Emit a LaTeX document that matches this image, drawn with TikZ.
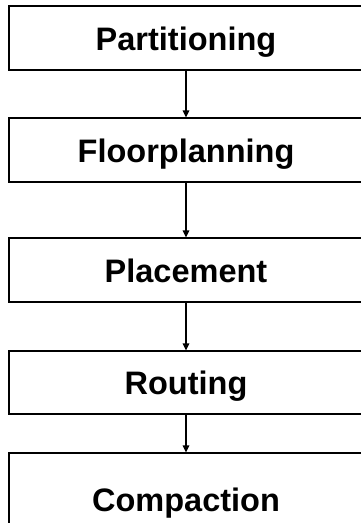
\documentclass[tikz,border=0pt]{standalone}
\usepackage{fontspec}
\setmainfont{Liberation Sans}
\usetikzlibrary{arrows.meta}
\tikzset{
  stage/.style={draw, line width=1.2pt, minimum width=354pt, minimum height=64pt,
    text height=25pt, text depth=0pt, font=\fontsize{32.5}{38}\selectfont\bfseries},
  flow/.style={line width=1.5pt, -{Triangle[width=6.5pt,length=7pt]}}
}
\begin{document}
\begin{tikzpicture}[x=1pt, y=1pt]
  \useasboundingbox (0,0) rectangle (361,523);
  \clip (0,0) rectangle (361,523);
  \node[stage] (part) at (186,485) {Partitioning};
  \node[stage] (floor) at (186,373) {Floorplanning};
  \node[stage] (place) at (186,253) {Placement};
  \node[stage, minimum height=63pt] (route) at (186,140.5) {Routing};
  \node[stage, minimum height=92pt] (comp) at (186,24) {Compaction};
  \draw[flow] (part) -- (floor);
  \draw[flow] (floor) -- (place);
  \draw[flow] (place) -- (route);
  \draw[flow] (route) -- (comp);
\end{tikzpicture}
\end{document}
